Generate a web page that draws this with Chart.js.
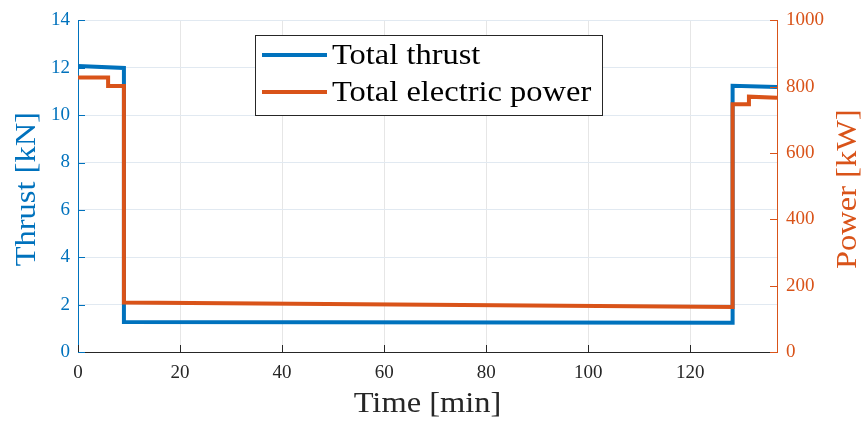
<!DOCTYPE html>
<html>
<head>
<meta charset="utf-8">
<script src="https://cdn.jsdelivr.net/npm/chart.js@4"></script>
<style>
  html, body { margin: 0; padding: 0; background: #fff; }
  #wrap { width: 864px; height: 421px; }
</style>
</head>
<body>
<div id="wrap"><canvas id="chart-thrust-power" width="864" height="421"></canvas></div>
<script>
// Mission profile: thrust and electric power vs time
const THRUST_TIME = [0, 9, 9, 128.3, 128.3, 137];
const THRUST_KN = [12.07, 11.99, 1.27, 1.23, 11.24, 11.19];
const POWER_TIME = [0, 5.9, 5.9, 9, 9, 128.3, 128.3, 131.5, 131.5, 137];
const POWER_KW = [828, 828, 802, 802, 149, 136, 747, 747, 770, 767];

const TIME_TICKS = [0, 20, 40, 60, 80, 100, 120];
const THRUST_TICKS = [0, 2, 4, 6, 8, 10, 12, 14];
const POWER_TICKS = [0, 200, 400, 600, 800, 1000];

const BLUE = '#0072BD';
const ORANGE = '#D95319';
const DARK = '#262626';
const SERIF = "'Liberation Serif', 'DejaVu Serif', serif";
const STRETCH = 1.12;   // widen the serif text a little

const toPoints = (xs, ys) => xs.map((x, i) => ({ x: x, y: ys[i] }));
const setTicks = list => scale => { scale.ticks = list.map(v => ({ value: v })); };
const plain = v => String(v);

function wideText(ctx, text, x, y, rot, align) {
    ctx.save();
    ctx.translate(x, y);
    if (rot) ctx.rotate(rot);
    ctx.scale(STRETCH, 1);
    ctx.textAlign = align;
    ctx.fillText(text, 0, 0);
    ctx.restore();
}

// inward tick marks, axis titles and the boxed legend
const decorations = {
    id: 'decorations',
    afterDraw(chart) {
        const ctx = chart.ctx;
        const { left, right, top, bottom } = chart.chartArea;
        const sx = chart.scales.x, sy = chart.scales.y, sp = chart.scales.y1;
        const len = 7;
        ctx.save();
        ctx.lineWidth = 1;

        ctx.strokeStyle = DARK;
        ctx.beginPath();
        TIME_TICKS.forEach(v => {
            const px = Math.round(sx.getPixelForValue(v)) + 0.5;
            ctx.moveTo(px, bottom); ctx.lineTo(px, bottom - len);
        });
        ctx.stroke();

        ctx.strokeStyle = BLUE;
        ctx.beginPath();
        THRUST_TICKS.forEach(v => {
            const py = Math.round(sy.getPixelForValue(v)) + 0.5;
            ctx.moveTo(left, py); ctx.lineTo(left + len, py);
        });
        ctx.stroke();

        ctx.strokeStyle = ORANGE;
        ctx.beginPath();
        POWER_TICKS.forEach(v => {
            const py = Math.round(sp.getPixelForValue(v)) + 0.5;
            ctx.moveTo(right, py); ctx.lineTo(right - len, py);
        });
        ctx.stroke();

        // axis titles
        const midY = (top + bottom) / 2 + 3;
        ctx.font = '29px ' + SERIF;
        ctx.textBaseline = 'middle';
        ctx.fillStyle = DARK;
        wideText(ctx, 'Time [min]', (left + right) / 2, 404, 0, 'center');
        ctx.fillStyle = BLUE;
        wideText(ctx, 'Thrust [kN]', 27, midY, -Math.PI / 2, 'center');
        ctx.fillStyle = ORANGE;
        wideText(ctx, 'Power [kW]', 848, midY, -Math.PI / 2, 'center');

        // legend
        const bx = 255.5, by = 35.5, bw = 347, bh = 80;
        ctx.fillStyle = '#fff';
        ctx.fillRect(bx, by, bw, bh);
        ctx.strokeStyle = DARK;
        ctx.lineWidth = 1;
        ctx.strokeRect(bx, by, bw, bh);

        const rows = [55, 92];
        ctx.font = '29px ' + SERIF;
        chart.data.datasets.forEach((ds, i) => {
            const y = rows[i];
            ctx.strokeStyle = ds.borderColor;
            ctx.lineWidth = 4;
            ctx.beginPath();
            ctx.moveTo(262, y); ctx.lineTo(327, y);
            ctx.stroke();
            ctx.fillStyle = '#000';
            wideText(ctx, ds.label, 332, y + 1, 0, 'left');
        });
        ctx.restore();
    }
};

new Chart(document.getElementById('chart-thrust-power'), {
    type: 'line',
    data: {
        datasets: [
            { label: 'Total thrust', data: toPoints(THRUST_TIME, THRUST_KN), yAxisID: 'y',
              borderColor: BLUE, borderWidth: 4, pointRadius: 0, tension: 0, order: 1,
              borderCapStyle: 'butt', borderJoinStyle: 'miter' },
            { label: 'Total electric power', data: toPoints(POWER_TIME, POWER_KW), yAxisID: 'y1',
              borderColor: ORANGE, borderWidth: 4, pointRadius: 0, tension: 0, order: 0,
              borderCapStyle: 'butt', borderJoinStyle: 'miter' }
        ]
    },
    options: {
        responsive: false,
        animation: false,
        layout: { padding: { top: 19, left: 0, right: 0, bottom: 0 } },
        plugins: { legend: { display: false }, tooltip: { enabled: false } },
        scales: {
            x: {
                type: 'linear', min: 0, max: 137,
                afterBuildTicks: setTicks(TIME_TICKS),
                afterFit: s => { s.height = 69; },
                grid: { color: '#e6e6e6', drawTicks: false },
                border: { color: DARK, width: 1 },
                ticks: { color: DARK, padding: 10, font: { family: SERIF, size: 19 }, maxRotation: 0, callback: plain }
            },
            y: {
                position: 'left', min: 0, max: 14,
                afterBuildTicks: setTicks(THRUST_TICKS),
                afterFit: s => { s.width = 78; },
                grid: { color: '#e1e9f1', drawTicks: false },
                border: { color: BLUE, width: 1 },
                ticks: { color: BLUE, padding: 8, font: { family: SERIF, size: 19 }, callback: plain }
            },
            y1: {
                position: 'right', min: 0, max: 1000,
                afterBuildTicks: setTicks(POWER_TICKS),
                afterFit: s => { s.width = 87; },
                grid: { drawOnChartArea: false, drawTicks: false },
                border: { color: ORANGE, width: 1 },
                ticks: { color: ORANGE, padding: 9, font: { family: SERIF, size: 19 }, callback: plain }
            }
        }
    },
    plugins: [decorations]
});
</script>
</body>
</html>
